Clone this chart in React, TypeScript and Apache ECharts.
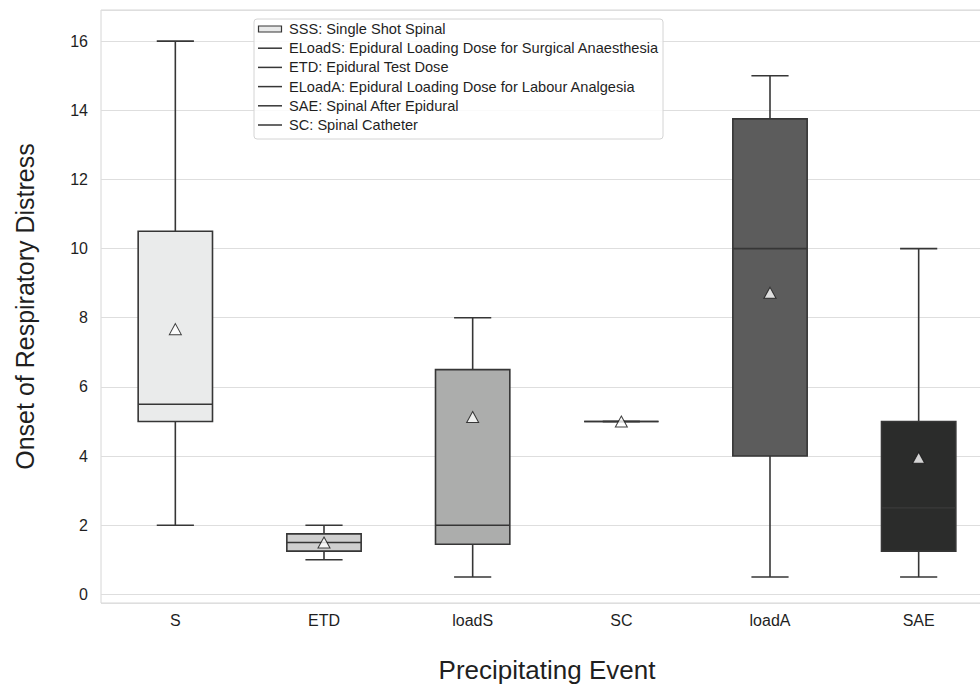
import React, { useEffect, useRef } from "react";
import * as echarts from "echarts";

const categories = ["S", "ETD", "loadS", "SC", "loadA", "SAE"];
const whiskerLow = [2, 1, 0.5, 5, 0.5, 0.5];
const q1 = [5, 1.25, 1.45, 5, 4, 1.25];
const median = [5.5, 1.5, 2, 5, 10, 2.5];
const q3 = [10.5, 1.75, 6.5, 5, 13.75, 5];
const whiskerHigh = [16, 2, 8, 5, 15, 10];
const means = [7.67, 1.5, 5.13, 5, 8.72, 3.95];
const boxColors = ["#eaebeb", "#cfcfcf", "#acadac", "#858585", "#5c5c5c", "#2b2c2b"];

const legendLabels = [
  "SSS: Single Shot Spinal",
  "ELoadS: Epidural Loading Dose for Surgical Anaesthesia",
  "ETD: Epidural Test Dose",
  "ELoadA: Epidural Loading Dose for Labour Analgesia",
  "SAE: Spinal After Epidural",
  "SC: Spinal Catheter",
];

const FONT = "'Liberation Sans', Arial, sans-serif";
const EDGE = "#363636";

export default function App() {
  const ref = useRef<HTMLDivElement>(null);

  useEffect(() => {
    if (!ref.current) return;
    const chart = echarts.init(ref.current, null, { renderer: "svg" });

    const boxData = categories.map((_, i) => [
      i,
      whiskerLow[i],
      q1[i],
      median[i],
      q3[i],
      whiskerHigh[i],
    ]);

    const legendGraphics: any[] = [
      {
        type: "rect",
        shape: { x: 254, y: 19, width: 409, height: 120, r: 3 },
        style: { fill: "rgba(255,255,255,0.85)", stroke: "#d4d4d4", lineWidth: 1 },
        z: 100,
      },
    ];
    legendLabels.forEach((label, i) => {
      const cy = 29 + i * 19.2;
      if (i === 0) {
        legendGraphics.push({
          type: "rect",
          shape: { x: 258.5, y: cy - 3, width: 23, height: 6 },
          style: { fill: "#e8e9e9", stroke: EDGE, lineWidth: 1.2 },
          z: 101,
        });
      } else {
        legendGraphics.push({
          type: "line",
          shape: { x1: 258, y1: cy, x2: 282, y2: cy },
          style: { stroke: EDGE, lineWidth: 1.5 },
          z: 101,
        });
      }
      legendGraphics.push({
        type: "text",
        x: 289,
        y: cy,
        style: {
          text: label,
          fill: "#1f1f1f",
          font: `14.6px ${FONT}`,
          verticalAlign: "middle",
          align: "left",
        },
        z: 101,
      });
    });

    chart.setOption({
      animation: false,
      backgroundColor: "#ffffff",
      textStyle: { fontFamily: FONT },
      grid: {
        left: 101,
        top: 10,
        width: 892,
        height: 595,
        show: true,
        borderColor: "#d6d6d6",
        borderWidth: 1,
        containLabel: false,
      },
      xAxis: {
        type: "category",
        data: categories,
        boundaryGap: true,
        axisLine: { show: false },
        axisTick: { show: false },
        splitLine: { show: false },
        axisLabel: { fontSize: 16, color: "#1f1f1f", margin: 9, fontFamily: FONT },
        name: "Precipitating Event",
        nameLocation: "middle",
        nameGap: 54,
        nameTextStyle: { fontSize: 26, color: "#1f1f1f", fontFamily: FONT },
      },
      yAxis: {
        type: "value",
        min: -0.25,
        max: 16.9,
        minInterval: 2,
        maxInterval: 2,
        axisLine: { show: false },
        axisTick: { show: false },
        splitLine: { show: true, lineStyle: { color: "#dedede", width: 1 } },
        axisLabel: {
          fontSize: 16,
          color: "#1f1f1f",
          margin: 13,
          fontFamily: FONT,
          formatter: (v: number) =>
            Math.abs(v - Math.round(v)) < 1e-6 && Math.round(v) % 2 === 0 ? String(Math.round(v)) : "",
        },
        name: "Onset of Respiratory Distress",
        nameLocation: "middle",
        nameRotate: 90,
        nameGap: 64,
        nameTextStyle: { fontSize: 25, color: "#1f1f1f", fontFamily: FONT },
      },
      series: [
        {
          type: "custom",
          name: "boxes",
          data: boxData,
          encode: { x: 0, y: [1, 2, 3, 4, 5] },
          z: 3,
          renderItem: (params: any, api: any) => {
            const idx = api.value(0);
            const band = api.size([1, 0])[0];
            const bw = band * 0.5;
            const cw = bw / 2;
            const pLow = api.coord([idx, api.value(1)]);
            const pQ1 = api.coord([idx, api.value(2)]);
            const pMed = api.coord([idx, api.value(3)]);
            const pQ3 = api.coord([idx, api.value(4)]);
            const pHigh = api.coord([idx, api.value(5)]);
            const cx = pLow[0];
            const lineStyle = { stroke: EDGE, lineWidth: 1.6 };
            return {
              type: "group",
              children: [
                { type: "line", shape: { x1: cx, y1: pQ1[1], x2: cx, y2: pLow[1] }, style: lineStyle },
                { type: "line", shape: { x1: cx, y1: pQ3[1], x2: cx, y2: pHigh[1] }, style: lineStyle },
                { type: "line", shape: { x1: cx - cw / 2, y1: pLow[1], x2: cx + cw / 2, y2: pLow[1] }, style: lineStyle },
                { type: "line", shape: { x1: cx - cw / 2, y1: pHigh[1], x2: cx + cw / 2, y2: pHigh[1] }, style: lineStyle },
                {
                  type: "rect",
                  shape: { x: cx - bw / 2, y: pQ3[1], width: bw, height: pQ1[1] - pQ3[1] },
                  style: { fill: boxColors[idx], stroke: EDGE, lineWidth: 1.6 },
                },
                { type: "line", shape: { x1: cx - bw / 2, y1: pMed[1], x2: cx + bw / 2, y2: pMed[1] }, style: lineStyle },
              ],
            };
          },
        },
        {
          type: "scatter",
          name: "mean",
          data: categories.map((c, i) => [i, means[i]]),
          symbol: "triangle",
          symbolSize: [12, 11],
          itemStyle: { color: "#ffffff", borderColor: "#111111", borderWidth: 1 },
          z: 5,
        },
      ],
      graphic: legendGraphics,
    });

    return () => chart.dispose();
  }, []);

  return (
    <div style={{ position: "fixed", left: 0, top: 0, width: 980, height: 688, overflow: "hidden" }}>
      <div ref={ref} style={{ width: 1000, height: 688 }} />
    </div>
  );
}
